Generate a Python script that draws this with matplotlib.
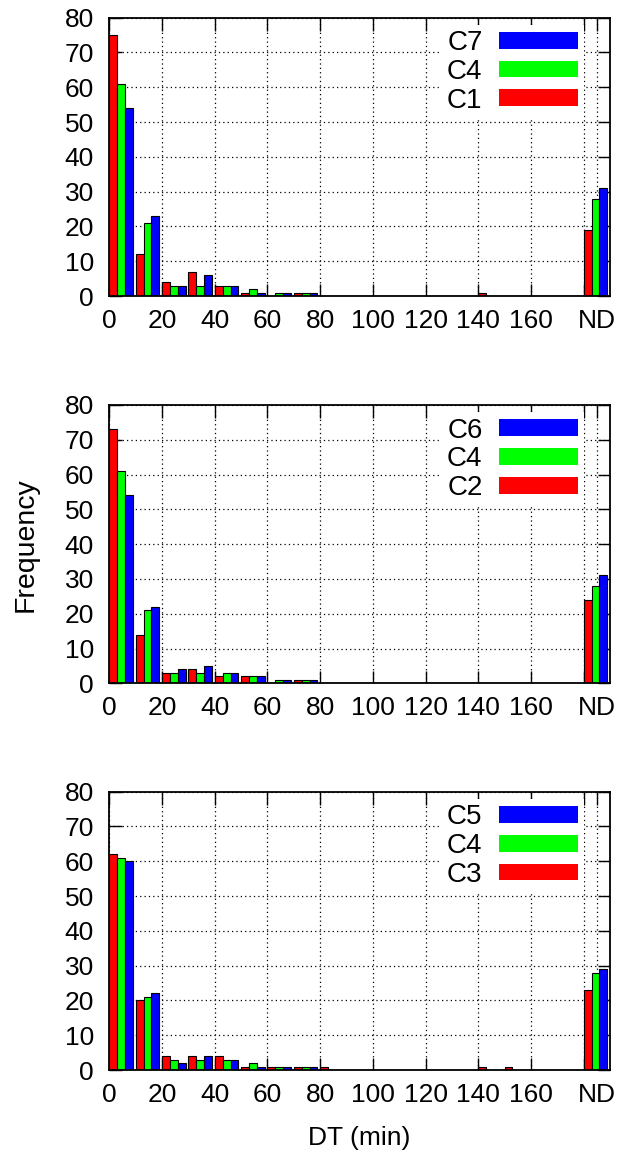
import matplotlib
matplotlib.use("Agg")
import matplotlib.pyplot as plt
from matplotlib.patches import Patch
import numpy as np

plt.rcParams['font.family'] = ['Liberation Sans', 'DejaVu Sans']

# bins: 0,10,...,170 (min) plus ND
bin_starts = [0, 10, 20, 30, 40, 50, 60, 70, 80, 90, 100, 110, 120, 130, 140, 150, 160, 170]
nd_pos = 180

c4 = [61, 21, 3, 3, 3, 2, 1, 1, 0, 0, 0, 0, 0, 0, 0, 0, 0, 0]
c4_nd = 28

c1 = [75, 12, 4, 7, 3, 1, 0, 1, 0, 0, 0, 0, 0, 0, 1, 0, 0, 0]
c1_nd = 19
c7 = [54, 23, 3, 6, 3, 1, 1, 1, 0, 0, 0, 0, 0, 0, 0, 0, 0, 0]
c7_nd = 31

c2 = [73, 14, 3, 4, 2, 2, 0, 1, 0, 0, 0, 0, 0, 0, 0, 0, 0, 0]
c2_nd = 24
c6 = [54, 22, 4, 5, 3, 2, 1, 1, 0, 0, 0, 0, 0, 0, 0, 0, 0, 0]
c6_nd = 31

c3 = [62, 20, 4, 4, 4, 1, 1, 1, 1, 0, 0, 0, 0, 0, 1, 1, 0, 0]
c3_nd = 23
c5 = [60, 22, 2, 4, 3, 1, 1, 1, 0, 0, 0, 0, 0, 0, 0, 0, 0, 0]
c5_nd = 29

panels = [
    (("C1", c1, c1_nd), ("C4", c4, c4_nd), ("C7", c7, c7_nd)),
    (("C2", c2, c2_nd), ("C4", c4, c4_nd), ("C6", c6, c6_nd)),
    (("C3", c3, c3_nd), ("C4", c4, c4_nd), ("C5", c5, c5_nd)),
]

xtick_pos = [0, 20, 40, 60, 80, 100, 120, 140, 160, 180, 185]
xtick_lab = ["0", "20", "40", "60", "80", "100", "120", "140", "160", "", "ND"]
ytick_pos = [0, 10, 20, 30, 40, 50, 60, 70, 80]

colors = ["#ff0000", "#00ff00", "#0000ff"]

fig = plt.figure(figsize=(6.28, 11.57), dpi=100)
W, H = 628.0, 1157.0
left_px, right_px = 109.3, 610.0
tops = [17.6, 405.0, 791.7]
bottoms = [296.0, 683.3, 1070.0]

bar_w = 3.0
xpos = np.array(bin_starts + [nd_pos], dtype=float)

for pi, series in enumerate(panels):
    ax = fig.add_axes([left_px / W, 1 - bottoms[pi] / H,
                       (right_px - left_px) / W, (bottoms[pi] - tops[pi]) / H])
    handles = []
    for si, (name, vals, nd) in enumerate(series):
        heights = list(vals) + [nd]
        ax.bar(xpos + 1.5 + 3 * si, heights, width=bar_w, color=colors[si],
               edgecolor="black", linewidth=0.8, zorder=3)
        handles.append(Patch(facecolor=colors[si], edgecolor="none", label=name))
    ax.set_xlim(0, 190)
    ax.set_ylim(0, 80)
    ax.set_xticks(xtick_pos)
    ax.set_xticklabels(xtick_lab)
    ax.set_yticks(ytick_pos)
    ax.tick_params(direction="in", length=9, width=1, top=True, right=True,
                   labelsize=19, colors="black")
    ax.tick_params(axis="x", pad=9)
    ax.tick_params(axis="y", pad=11)
    ax.grid(True, linestyle=(0, (1, 2.5)), color="black", linewidth=0.9, zorder=0)
    ax.set_axisbelow(True)
    for sp in ax.spines.values():
        sp.set_linewidth(1.3)
        sp.set_zorder(5)
    leg = ax.legend(handles=handles[::-1], loc="upper right",
                    bbox_to_anchor=(0.948, 0.975), fontsize=20,
                    markerfirst=False, handlelength=2.85, handleheight=0.55,
                    handletextpad=0.6, labelspacing=0.1, borderpad=0.2,
                    borderaxespad=0, frameon=True, fancybox=False,
                    facecolor="white", edgecolor="none", framealpha=1.0)
    leg.set_zorder(10)
    if pi == 1:
        ax.set_ylabel("Frequency", fontsize=20.5, labelpad=19)
    if pi == 2:
        ax.set_xlabel("DT (min)", fontsize=19, labelpad=14)

fig.savefig("out.png", dpi=100)
